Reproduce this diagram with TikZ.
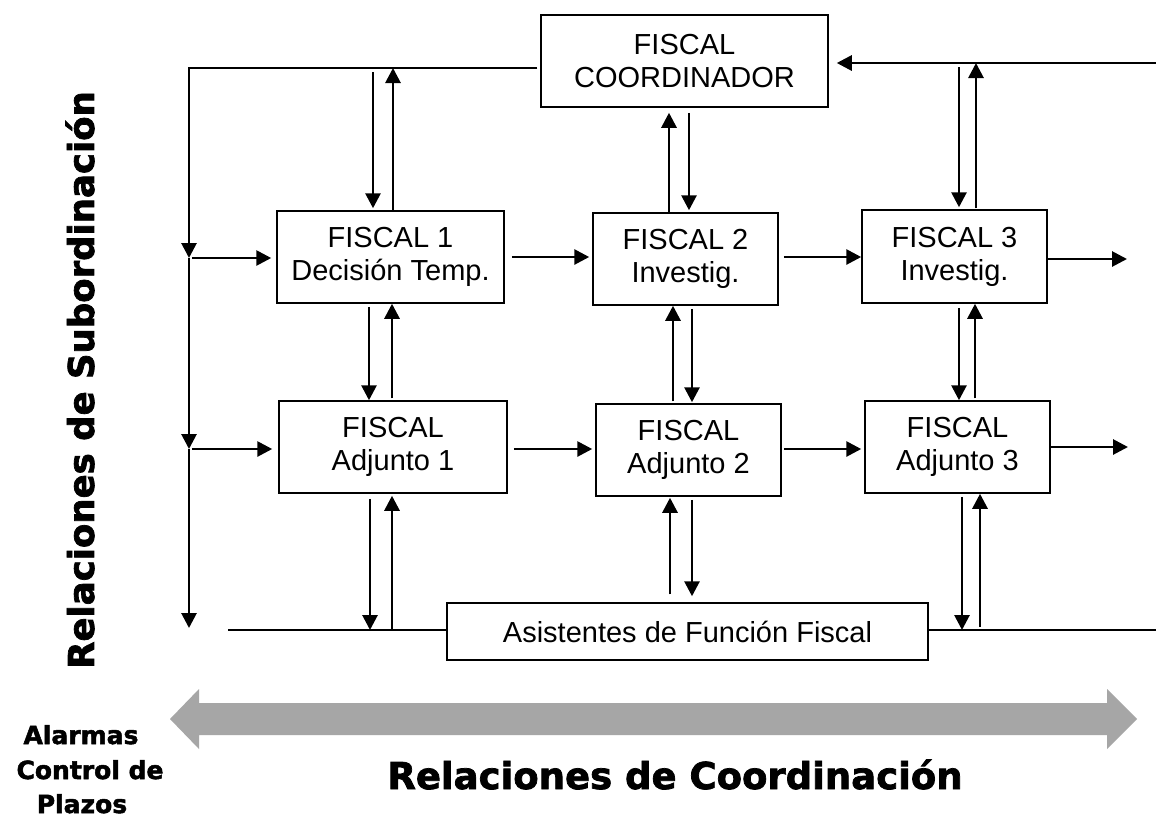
\documentclass[tikz,border=0pt]{standalone}
\usepackage{fontspec}
\setmainfont{Liberation Sans}
\newfontfamily\heavy[FakeBold=2]{DejaVu Sans Bold}
\usetikzlibrary{arrows.meta,calc}
\begin{document}
\begin{tikzpicture}[x=1pt,y=-1pt,
  box/.style={draw,line width=1.5pt,inner sep=0pt,align=center,font=\fontsize{29}{33}\selectfont},
  arr/.style={draw,line width=2.8pt,-{Triangle[length=15pt,width=15pt]}},
  plain/.style={draw,line width=2.8pt},
  bigtxt/.style={font=\heavy\fontsize{37}{40}\selectfont,inner sep=0pt},
  subtxt/.style={font=\heavy\fontsize{35.5}{40}\selectfont,inner sep=0pt},
  smalltxt/.style={font=\heavy\fontsize{25}{30}\selectfont,inner sep=0pt}]
\fill[white] (0,0) rectangle (1156,820);
\useasboundingbox (0,0) rectangle (1156,820);

% boxes
\node[box, minimum width=287pt, minimum height=92pt] (coord) at (684.5,61) {FISCAL\\COORDINADOR};
\node[box, minimum width=227pt, minimum height=92pt] (f1) at (390.5,257) {FISCAL 1\\Decisión Temp.};
\node[box, minimum width=185pt, minimum height=92pt] (f2) at (685.5,259) {FISCAL 2\\Investig.};
\node[box, minimum width=185pt, minimum height=93pt] (f3) at (954.5,256.5) {FISCAL 3\\Investig.};
\node[box, minimum width=228pt, minimum height=92pt] (a1) at (393,447) {FISCAL\\Adjunto 1};
\node[box, minimum width=185pt, minimum height=92pt] (a2) at (688.5,450) {FISCAL\\Adjunto 2};
\node[box, minimum width=185pt, minimum height=92pt] (a3) at (957.5,447) {FISCAL\\Adjunto 3};
\node[box, minimum width=481pt, minimum height=57pt] (as) at (687.5,631.5) {Asistentes de Función Fiscal};

% coordinates on lines
\coordinate (tl) at (189,68);
\coordinate (v1) at (189,258);
\coordinate (v2) at (189,449);
\coordinate (vend) at (189,628);
\coordinate (j1) at (373,68);
\coordinate (j2) at (393,68);
\coordinate (bl) at (228,630);
\coordinate (b1) at (370,630);
\coordinate (b2) at (392,630);
\coordinate (br) at (1156,630);
\coordinate (b3) at (962,630);
\coordinate (b4) at (980,630);
\coordinate (tr) at (1156,63);
\coordinate (j3) at (959,63);
\coordinate (j4) at (976,63);
\coordinate (o1) at (1127,259);
\coordinate (o2) at (1128,447);

% left trunk
\draw[arr] ($(coord.west |- tl)+(-3,0)$) -- (tl) -- (v1);
\draw[arr] (v1) -- (v2);
\draw[arr] (v2) -- (vend);
\draw[arr, shorten >=5pt] ($(v1)+(3,0)$) -- (v1 -| f1.west);
\draw[arr, shorten >=6pt] ($(v2)+(3,0)$) -- (v2 -| a1.west);

% top-left to F1
\draw[arr] ($(j1)+(0,4)$) -- ($(j1 |- f1.north)+(0,-2)$);
\draw[arr] (j2 |- f1.north) -- (j2);
% F1 - A1
\draw[arr] ($(f1.south)+(-21.5,3)$) -- ($(a1.north)+(-24,0)$);
\draw[arr] ($(a1.north)+(-1,-2)$) -- ($(f1.south)+(1.5,0)$);
% A1 - bottom line
\draw[arr] ($(a1.south)+(-23,5)$) -- (b1);
\draw[arr] (b2) -- ($(a1.south)+(-1,2)$);
% bottom lines
\draw[plain] (bl) -- (as.west |- bl);
\draw[plain] (as.east |- br) -- (br);

% coordinator - F2
\draw[arr] ($(f2.north)+(-16.5,0)$) -- ($(coord.south)+(-15.5,5)$);
\draw[arr] ($(coord.south)+(4.5,5)$) -- ($(f2.north)+(3.5,-2)$);
% F2 - A2
\draw[arr] ($(a2.north)+(-15.5,-2)$) -- ($(f2.south)+(-12.5,0)$);
\draw[arr] ($(f2.south)+(6.5,3)$) -- ($(a2.north)+(3.5,-1)$);
% A2 - Asistentes
\draw[arr] ($(as.north)+(-17.5,-8)$) -- ($(a2.south)+(-18.5,1)$);
\draw[arr] ($(a2.south)+(3.5,3)$) -- ($(as.north)+(4.5,-6)$);

% top right
\draw[arr] (tr) -- ($(coord.east |- tr)+(8,0)$);
\draw[arr] ($(j3)+(0,4)$) -- ($(j3 |- f3.north)+(0,-2)$);
\draw[arr] ($(j4 |- f3.north)+(0,-1)$) -- (j4);
% F3 - A3
\draw[arr] ($(f3.south)+(4.5,4)$) -- ($(a3.north)+(1.5,0)$);
\draw[arr] ($(a3.north)+(17.5,-2)$) -- ($(f3.south)+(20.5,0)$);
% A3 - bottom line
\draw[arr] ($(a3.south)+(4.5,3)$) -- (b3);
\draw[arr] ($(b4)+(0,-3)$) -- (b4 |- a3.south);

% horizontal arrows
\draw[arr] ($(f1.east)+(7,0)$) -- ($(f1.east -| f2.west)+(-3,0)$);
\draw[arr] ($(f2.east)+(5,-2)$) -- ($(f2.east -| f3.west)+(0,-2)$);
\draw[arr] (f3.east |- o1) -- (o1);
\draw[arr] ($(a1.east)+(6,2)$) -- ($(a1.east -| a2.west)+(-3,2)$);
\draw[arr] ($(a2.east)+(2,-1)$) -- ($(a2.east -| a3.west)+(-3,-1)$);
\draw[arr] (a3.east |- o2) -- (o2);

% big grey double arrow
\fill[fill={rgb,255:red,166;green,166;blue,166}]
  (170,719) -- (199,689) -- (199,703) -- (1107,703) -- (1107,689) -- (1137,719)
  -- (1107,749) -- (1107,735) -- (199,735) -- (199,749) -- cycle;

% labels
\node[subtxt, rotate=90] (sub) at (80,380) {Relaciones de Subordinación};
\node[bigtxt, anchor=base] (coo) at (675,789) {Relaciones de Coordinación};
\node[smalltxt, anchor=base] (al1) at (81,744) {Alarmas};
\node[smalltxt, anchor=base] (al2) at (90,779) {Control de};
\node[smalltxt, anchor=base] (al3) at (82,813) {Plazos};
\end{tikzpicture}
\end{document}
